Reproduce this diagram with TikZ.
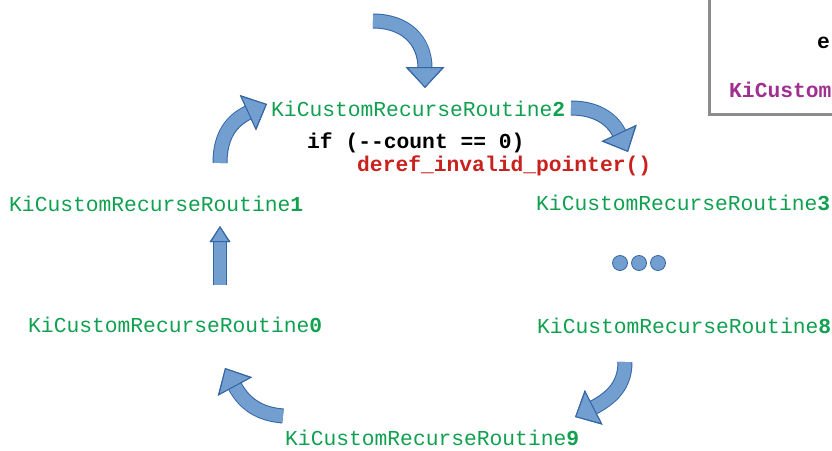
\documentclass[tikz,border=0pt]{standalone}
\usepackage{fontspec}
\setmonofont{Liberation Mono}
\usepackage{tikz}
\usetikzlibrary{arrows.meta}

\definecolor{fngreen}{HTML}{10A050}
\definecolor{errred}{HTML}{C9211E}
\definecolor{fnpurple}{HTML}{A0308F}
\definecolor{boxgray}{HTML}{8C8C8C}
\definecolor{arrowfill}{HTML}{729FCF}
\definecolor{arrowbd}{HTML}{3465A4}

\tikzset{
 fname/.style={anchor=base west, inner sep=0pt, text=fngreen, font=\ttfamily\fontsize{21.3}{25}\selectfont},
 code/.style={anchor=base west, inner sep=0pt, font=\ttfamily\bfseries\fontsize{21.3}{25}\selectfont},
 flow/.style={line width=13pt, draw=arrowfill,
  -{Triangle[width=38pt,length=21pt,line width=1pt,color=arrowbd,fill=arrowfill]},
  preaction={draw=arrowbd, line width=15pt, -{Triangle[width=38pt,length=21pt]}}},
 upflow/.style={line width=12pt, draw=arrowfill,
  -{Triangle[width=20pt,length=16pt,line width=1pt,color=arrowbd,fill=arrowfill]},
  preaction={draw=arrowbd, line width=14pt, -{Triangle[width=20pt,length=16pt]}}},
 dot/.style={circle, inner sep=0pt, minimum size=15pt, fill=arrowfill, draw=arrowbd, line width=0.8pt}
}

\begin{document}
\begin{tikzpicture}[x=1pt,y=-1pt]
 \clip (0,0) rectangle (832,450);

 % routine names round the cycle
 \node[fname] (r2) at (271,116) {KiCustomRecurseRoutine\textbf{2}};
 \node[fname] (r1) at (9,211) {KiCustomRecurseRoutine\textbf{1}};
 \node[fname] (r3) at (536,210) {KiCustomRecurseRoutine\textbf{3}};
 \node[fname] (r0) at (28,332) {KiCustomRecurseRoutine\textbf{0}};
 \node[fname] (r8) at (537,333) {KiCustomRecurseRoutine\textbf{8}};
 \node[fname] (r9) at (285,445) {KiCustomRecurseRoutine\textbf{9}};
 \node[code] (cond) at (307,148) {if (--count == 0)};
 \node[code, text=errred] (crash) at (357,171) {deref\_invalid\_pointer()};

 % box cut off at the top right
 \draw[boxgray, line width=3pt] (709,-10) |- (850,114);
 \node[code] (e) at (817,48) {e};
 \node[code, text=fnpurple] (kic) at (729,97) {KiCustom};

 % the dots between 3 and 8
 \node[dot] (d1) at (620,263) {};
 \node[dot] (d2) at (639,263) {};
 \node[dot] (d3) at (658,263) {};

 % arrow ends
 \coordinate (in0) at (373,21);   \coordinate (in1) at (425,88);
 \coordinate (a0) at (220,163);   \coordinate (a1) at (267,104);
 \coordinate (b0) at (571,108);   \coordinate (b1) at (628,152);
 \coordinate (c0) at (220,285);   \coordinate (c1) at (220,226);
 \coordinate (e0) at (625,362);   \coordinate (e1) at (575,417);
 \coordinate (f0) at (283,416);   \coordinate (f1) at (225,368);

 \draw[flow] (in0) .. controls (405,21) and (425,40) .. (in1);
 \draw[flow] (a0) .. controls (220,135) and (232,120) .. (a1);
 \draw[flow] (b0) .. controls (595,108) and (612,118) .. (b1);
 \draw[upflow] (c0) -- (c1);
 \draw[flow] (e0) .. controls (625,385) and (612,398) .. (e1);
 \draw[flow] (f0) .. controls (260,414) and (245,405) .. (f1);
\end{tikzpicture}
\end{document}
